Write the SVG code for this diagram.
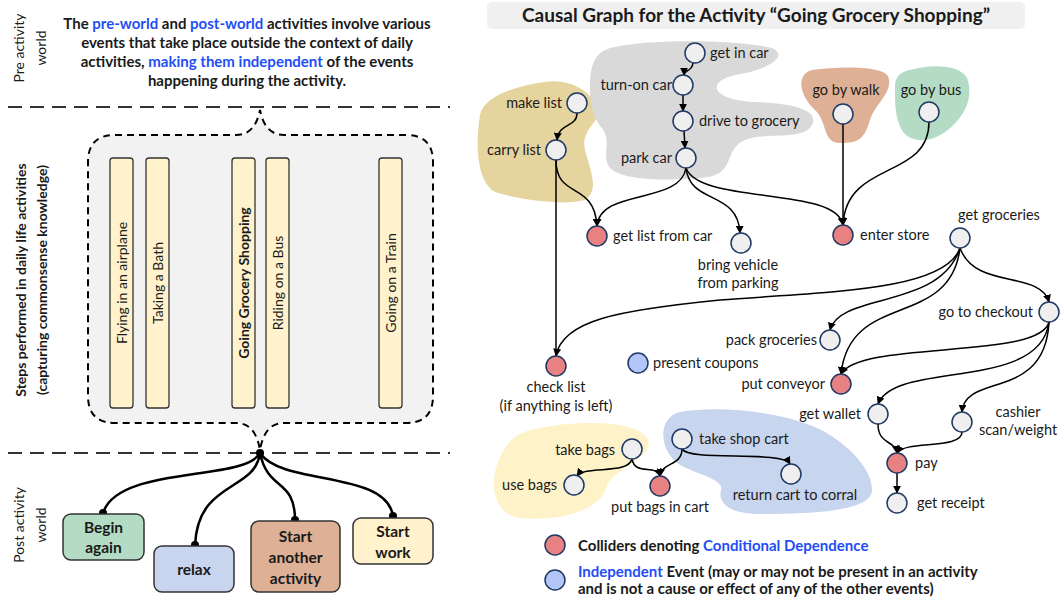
<svg xmlns="http://www.w3.org/2000/svg" width="1061" height="600" viewBox="0 0 1061 600">
<defs>
<marker id="ah" viewBox="0 0 10 10" refX="9" refY="5" markerWidth="8" markerHeight="8" markerUnits="userSpaceOnUse" orient="auto">
<path d="M0,0 L10,5 L0,10 Z" fill="#000"/>
</marker>
<style>
text{font-family:Lato,"Liberation Sans",sans-serif;fill:#1a1a1a}
.lbl{font-size:14.5px}
.b{font-weight:bold}
.blue{fill:#1f4ef5}
.node{fill:#efefef;stroke:#1f3864;stroke-width:1.5}
.red{fill:#e88282;stroke:#1f3864;stroke-width:1.5}
.ind{fill:#b4c6f7;stroke:#1f3864;stroke-width:1.5}
.edge{fill:none;stroke:#000;stroke-width:1.5;marker-end:url(#ah)}
.line{fill:none;stroke:#000;stroke-width:1.5}
.thick{fill:none;stroke:#000;stroke-width:2.5}
.sep{stroke:#333;stroke-width:2;stroke-dasharray:14,8}
.bar{fill:#fff2cc;stroke:#333;stroke-width:1.3}
.box{stroke:#333;stroke-width:1.5}
.bt{font-size:15.5px;font-weight:bold;text-anchor:middle}
.vt{font-size:14px;text-anchor:middle}
</style>
</defs>
<rect width="1061" height="600" fill="#fff"/>

<!-- LEFT PANEL -->
<g id="left-labels">
<text class="vt" transform="translate(24,48) rotate(-90)">Pre activity</text>
<text class="vt" transform="translate(46,48) rotate(-90)">world</text>
<text class="vt b" transform="translate(26,280) rotate(-90)">Steps performed in daily life activities</text>
<text class="vt b" transform="translate(47,280) rotate(-90)">(capturing commonsense knowledge)</text>
<text class="vt" transform="translate(24,525) rotate(-90)">Post activity</text>
<text class="vt" transform="translate(46,525) rotate(-90)">world</text>
</g>
<g id="pre-text" font-size="15" font-weight="bold" text-anchor="middle">
<text x="247" y="29"><tspan>The </tspan><tspan class="blue">pre-world</tspan><tspan> and </tspan><tspan class="blue">post-world</tspan><tspan> activities involve various</tspan></text>
<text x="247" y="48">events that take place outside the context of daily</text>
<text x="247" y="67"><tspan>activities, </tspan><tspan class="blue">making them independent</tspan><tspan> of the events</tspan></text>
<text x="247" y="86">happening during the activity.</text>
</g>
<g id="separators">
<line class="sep" x1="8" y1="107" x2="450" y2="107"/>
<line class="sep" x1="8" y1="453" x2="450" y2="453"/>
</g>
<g id="activities">
<path d="M115,135 L236,135 C250,135 257,125 260,110 C263,125 270,135 284,135 L406,135 Q433,135 433,162 L433,396 Q433,423 406,423 L284,423 C270,423 263,433 260,450 C257,433 250,423 236,423 L115,423 Q88,423 88,396 L88,162 Q88,135 115,135 Z" fill="#f2f2f2" stroke="#000" stroke-width="2" stroke-dasharray="7,5"/>
<g id="bar-airplane"><rect class="bar" x="110" y="158" width="23" height="250" rx="3"/><text class="vt" transform="translate(126.5,283) rotate(-90)">Flying in an airplane</text></g>
<g id="bar-bath"><rect class="bar" x="146" y="158" width="23" height="250" rx="3"/><text class="vt" transform="translate(162.5,283) rotate(-90)">Taking a Bath</text></g>
<g id="bar-grocery"><rect class="bar" x="232" y="158" width="23" height="250" rx="3"/><text class="vt b" transform="translate(248.5,283) rotate(-90)">Going Grocery Shopping</text></g>
<g id="bar-bus"><rect class="bar" x="266" y="158" width="23" height="250" rx="3"/><text class="vt" transform="translate(282.5,283) rotate(-90)">Riding on a Bus</text></g>
<g id="bar-train"><rect class="bar" x="379" y="158" width="23" height="250" rx="3"/><text class="vt" transform="translate(395.5,283) rotate(-90)">Going on a Train</text></g>
</g>
<g id="post-connectors">
<path class="thick" d="M260,453 C245,482 118,465 103,513"/>
<path class="thick" d="M260,453 C255,492 198,480 195,545"/>
<path class="thick" d="M260,453 C268,492 295,478 295,520"/>
<path class="thick" d="M260,453 C282,486 386,470 393,516"/>
<circle cx="260" cy="453" r="4" fill="#000"/>
<circle cx="103" cy="513" r="4" fill="#000"/>
<circle cx="195" cy="545" r="4" fill="#000"/>
<circle cx="295" cy="520" r="4" fill="#000"/>
<circle cx="393" cy="516" r="4" fill="#000"/>
</g>
<g id="box-begin"><rect class="box" x="63" y="514" width="81" height="46" rx="8" fill="#b4dcc5"/><text class="bt" x="103.5" y="533">Begin</text><text class="bt" x="103.5" y="553">again</text></g>
<g id="box-relax"><rect class="box" x="154" y="546" width="80" height="46" rx="8" fill="#c9d5ee"/><text class="bt" x="194" y="575">relax</text></g>
<g id="box-another"><rect class="box" x="251" y="521" width="89" height="71" rx="8" fill="#deb196"/><text class="bt" x="295.5" y="542">Start</text><text class="bt" x="295.5" y="563">another</text><text class="bt" x="295.5" y="584">activity</text></g>
<g id="box-work"><rect class="box" x="353" y="518" width="80" height="46" rx="8" fill="#fff2cc"/><text class="bt" x="393" y="537">Start</text><text class="bt" x="393" y="558">work</text></g>

<!-- RIGHT PANEL -->
<g id="title"><rect x="487" y="2" width="538" height="27" rx="5" fill="#f0f0f0"/><text x="756" y="22" font-size="19" font-weight="bold" text-anchor="middle">Causal Graph for the Activity “Going Grocery Shopping”</text></g>

<g id="blobs">
<path d="M545,82 C570,78 592,92 598,108 C602,122 580,128 585,150 C590,170 600,190 585,200 C565,206 520,200 495,192 C475,180 476,140 480,115 C484,95 520,85 545,82 Z" fill="#e6d49e"/>
<path d="M610,48 C650,38 740,40 772,48 C790,56 768,70 735,75 C705,82 712,100 755,102 C800,104 822,112 810,128 C798,140 765,132 745,140 C722,150 738,176 700,178 C660,181 622,180 610,168 C600,156 614,140 600,126 C588,110 588,78 593,64 C597,54 602,51 610,48 Z" fill="#d9d9d9"/>
<path d="M812,70 C840,66 882,66 888,76 C894,92 876,102 870,120 C864,140 858,143 840,143 C822,143 828,122 815,110 C800,96 795,75 812,70 Z" fill="#deb196"/>
<path d="M910,70 C930,64 960,64 967,78 C975,100 962,120 945,132 C930,143 912,143 903,132 C894,118 895,98 895,85 C896,76 900,72 910,70 Z" fill="#b4dcc5"/>
<path d="M540,428 C580,420 640,420 648,440 C655,458 612,468 606,488 C600,510 560,522 520,518 C492,514 490,482 498,462 C506,442 515,432 540,428 Z" fill="#fdf2c8"/>
<path d="M680,412 C720,405 790,412 825,432 C852,448 872,470 872,490 C872,510 820,514 760,514 C725,514 718,500 721,490 C724,480 702,476 682,466 C660,455 655,418 680,412 Z" fill="#c8d5ee"/>
</g>

<g id="connectors">
<path class="edge" d="M693,63 C692,72 684,70 684,75"/>
<path class="edge" d="M683,95 L683,111"/>
<path class="edge" d="M684,131 L685,148"/>
<path class="edge" d="M577,113 C577,128 559,122 557,140"/>
<path class="line" d="M556,160 L556,356"/>
<path class="edge" d="M556,160 C556,200 594,180 597,226"/>
<path class="edge" d="M686,168 C680,205 600,188 597,226"/>
<path class="edge" d="M686,168 C690,205 738,190 740,233"/>
<path class="edge" d="M686,168 C700,205 836,186 843,225"/>
<path class="edge" d="M843,124 L843,225"/>
<path class="edge" d="M929,122 C929,180 846,160 843,225"/>
<path class="edge" d="M960,248 C945,292 820,292 720,300 C620,310 562,320 556,356"/>
<path class="edge" d="M960,248 C940,310 840,292 830,330"/>
<path class="edge" d="M960,248 C950,330 850,290 841,374"/>
<path class="edge" d="M960,248 C975,290 1040,270 1049,302"/>
<path class="edge" d="M1049,322 C1040,360 860,340 841,374"/>
<path class="edge" d="M1049,322 C1040,392 895,360 878,404"/>
<path class="edge" d="M1049,322 C1045,402 965,372 962,412"/>
<path class="edge" d="M878,424 C878,445 895,440 897,453"/>
<path class="edge" d="M962,432 C962,450 905,440 897,453"/>
<path class="edge" d="M897,473 L897,493"/>
<path class="edge" d="M632,459 C628,475 585,465 577,476"/>
<path class="edge" d="M632,459 C635,476 656,464 660,476"/>
<path class="edge" d="M682,449 C682,466 662,462 660,476"/>
<path class="edge" d="M682,449 C690,462 782,450 790,464"/>
</g>

<g id="n-getincar"><circle class="node" cx="695" cy="53" r="10"/><text class="lbl" x="710" y="58">get in car</text></g>
<g id="n-turnon"><circle class="node" cx="683" cy="85" r="10"/><text class="lbl" x="672" y="90" text-anchor="end">turn-on car</text></g>
<g id="n-drive"><circle class="node" cx="683" cy="121" r="10"/><text class="lbl" x="699" y="126">drive to grocery</text></g>
<g id="n-park"><circle class="node" cx="686" cy="158" r="10"/><text class="lbl" x="672" y="163" text-anchor="end">park car</text></g>
<g id="n-makelist"><circle class="node" cx="577" cy="103" r="10"/><text class="lbl" x="562" y="108" text-anchor="end">make list</text></g>
<g id="n-carrylist"><circle class="node" cx="556" cy="150" r="10"/><text class="lbl" x="541" y="155" text-anchor="end">carry list</text></g>
<g id="n-walk"><circle class="node" cx="843" cy="114" r="10"/><text class="lbl" x="846" y="95" text-anchor="middle">go by walk</text></g>
<g id="n-bus"><circle class="node" cx="929" cy="112" r="10"/><text class="lbl" x="931" y="95" text-anchor="middle">go by bus</text></g>
<g id="n-enter"><circle class="red" cx="843" cy="235" r="10"/><text class="lbl" x="860" y="240">enter store</text></g>
<g id="n-getgroc"><circle class="node" cx="960" cy="238" r="10"/><text class="lbl" x="999" y="220" text-anchor="middle">get groceries</text></g>
<g id="n-getlist"><circle class="red" cx="597" cy="236" r="10"/><text class="lbl" x="613" y="241">get list from car</text></g>
<g id="n-bring"><circle class="node" cx="741" cy="243" r="10"/><text class="lbl" x="738" y="270" text-anchor="middle">bring vehicle</text><text class="lbl" x="738" y="288" text-anchor="middle">from parking</text></g>
<g id="n-checklist"><circle class="red" cx="556" cy="366" r="10"/><text class="lbl" x="556" y="392" text-anchor="middle">check list</text><text class="lbl" x="556" y="411" text-anchor="middle">(if anything is left)</text></g>
<g id="n-coupons"><circle class="ind" cx="638" cy="363" r="10"/><text class="lbl" x="653" y="368">present coupons</text></g>
<g id="n-pack"><circle class="node" cx="830" cy="340" r="10"/><text class="lbl" x="817" y="345" text-anchor="end">pack groceries</text></g>
<g id="n-checkout"><circle class="node" cx="1049" cy="312" r="10"/><text class="lbl" x="1033" y="317" text-anchor="end">go to checkout</text></g>
<g id="n-conveyor"><circle class="red" cx="841" cy="384" r="10"/><text class="lbl" x="825" y="389" text-anchor="end">put conveyor</text></g>
<g id="n-wallet"><circle class="node" cx="878" cy="414" r="10"/><text class="lbl" x="861" y="419" text-anchor="end">get wallet</text></g>
<g id="n-cashier"><circle class="node" cx="962" cy="422" r="10"/><text class="lbl" x="1018" y="417" text-anchor="middle">cashier</text><text class="lbl" x="1018" y="435" text-anchor="middle">scan/weight</text></g>
<g id="n-pay"><circle class="red" cx="897" cy="463" r="10"/><text class="lbl" x="915" y="468">pay</text></g>
<g id="n-receipt"><circle class="node" cx="897" cy="503" r="10"/><text class="lbl" x="917" y="508">get receipt</text></g>
<g id="n-takebags"><circle class="node" cx="632" cy="449" r="10"/><text class="lbl" x="615" y="455" text-anchor="end">take bags</text></g>
<g id="n-usebags"><circle class="node" cx="574" cy="485" r="10"/><text class="lbl" x="557" y="490" text-anchor="end">use bags</text></g>
<g id="n-putbags"><circle class="red" cx="660" cy="486" r="10"/><text class="lbl" x="660" y="512" text-anchor="middle">put bags in cart</text></g>
<g id="n-takecart"><circle class="node" cx="682" cy="439" r="10"/><text class="lbl" x="699" y="444">take shop cart</text></g>
<g id="n-return"><circle class="node" cx="791" cy="474" r="10"/><text class="lbl" x="795" y="500" text-anchor="middle">return cart to corral</text></g>

<g id="legend" font-size="15" font-weight="bold">
<circle class="red" cx="555" cy="545" r="10"/>
<text x="578" y="551"><tspan>Colliders denoting </tspan><tspan class="blue">Conditional Dependence</tspan></text>
<circle class="ind" cx="555" cy="580" r="10"/>
<text x="578" y="577"><tspan class="blue">Independent</tspan><tspan> Event (may or may not be present in an activity</tspan></text>
<text x="578" y="594">and is not a cause or effect of any of the other events)</text>
</g>
</svg>
